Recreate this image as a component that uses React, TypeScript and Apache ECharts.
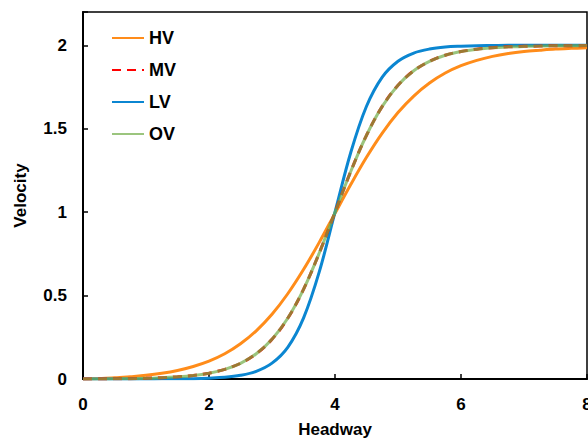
import React, { useEffect, useRef } from "react";
import * as echarts from "echarts";

const headway = [0, 0.25, 0.5, 0.75, 1, 1.25, 1.5, 1.75, 2, 2.25, 2.5, 2.75, 3, 3.25, 3.5, 3.75, 4, 4.25, 4.5, 4.75, 5, 5.25, 5.5, 5.75, 6, 6.25, 6.5, 6.75, 7, 7.25, 7.5, 7.75, 8];
const hvValues = [0, 0.003, 0.007, 0.014, 0.022, 0.034, 0.051, 0.075, 0.107, 0.151, 0.211, 0.289, 0.388, 0.511, 0.656, 0.819, 0.993, 1.166, 1.329, 1.474, 1.597, 1.696, 1.774, 1.834, 1.878, 1.91, 1.934, 1.951, 1.963, 1.971, 1.978, 1.982, 1.985];
const mvValues = [0, 0.0, 0.001, 0.002, 0.004, 0.008, 0.013, 0.021, 0.035, 0.058, 0.094, 0.151, 0.238, 0.364, 0.537, 0.755, 0.999, 1.244, 1.461, 1.634, 1.761, 1.848, 1.904, 1.941, 1.963, 1.977, 1.986, 1.991, 1.994, 1.996, 1.998, 1.998, 1.999];
const lvValues = [0, 0, 0, 0, 0, 0.001, 0.001, 0.002, 0.005, 0.01, 0.022, 0.046, 0.095, 0.19, 0.365, 0.642, 1.0, 1.358, 1.635, 1.81, 1.905, 1.954, 1.978, 1.99, 1.995, 1.998, 1.999, 2.0, 2.0, 2.0, 2.0, 2.0, 2.0];
const ovValues = [0, 0.0, 0.001, 0.002, 0.004, 0.008, 0.013, 0.021, 0.035, 0.058, 0.094, 0.151, 0.238, 0.364, 0.537, 0.755, 0.999, 1.244, 1.461, 1.634, 1.761, 1.848, 1.904, 1.941, 1.963, 1.977, 1.986, 1.991, 1.994, 1.996, 1.998, 1.998, 1.999];
const legendNames = ["HV", "MV", "LV", "OV"];

const pairs = (ys: number[]) => headway.map((x, i) => [x, ys[i]]);

export default function App() {
  const ref = useRef<HTMLDivElement>(null);
  useEffect(() => {
    if (!ref.current) return;
    const chart = echarts.init(ref.current, null, { renderer: "svg", width: 588, height: 441 });
    const font = "Liberation Sans, Arial, sans-serif";
    const lineBase = { type: "line", symbol: "none", showSymbol: false, smooth: 0.35 };
    chart.setOption({
      animation: false,
      backgroundColor: "#fff",
      grid: {
        left: 83,
        right: 1,
        top: 12,
        bottom: 62,
        outerBoundsMode: "none",
        containLabel: false,
        show: true,
        borderColor: "#000",
        borderWidth: 1.5,
      },
      legend: {
        data: legendNames,
        orient: "vertical",
        left: 106,
        top: 24,
        itemWidth: 32,
        itemHeight: 14,
        itemGap: 14,
        itemStyle: { opacity: 0, borderWidth: 0 },
        textStyle: { fontFamily: font, fontWeight: "bold", fontSize: 18, color: "#000", lineHeight: 18 },
      },
      xAxis: {
        type: "value",
        min: 0,
        max: 8,
        interval: 2,
        name: "Headway",
        nameLocation: "middle",
        nameGap: 42,
        nameTextStyle: { fontFamily: font, fontWeight: "bold", fontSize: 17, color: "#000" },
        axisLine: { lineStyle: { color: "#000", width: 2 } },
        axisTick: { inside: true, length: 5, lineStyle: { color: "#000", width: 1.5 } },
        axisLabel: { fontFamily: font, fontWeight: "bold", fontSize: 17, color: "#000", margin: 17 },
        splitLine: { show: false },
      },
      yAxis: {
        type: "value",
        min: 0,
        max: 2.2,
        interval: 0.5,
        name: "Velocity",
        nameLocation: "middle",
        nameGap: 54,
        nameTextStyle: { fontFamily: font, fontWeight: "bold", fontSize: 17, color: "#000" },
        axisLine: { lineStyle: { color: "#000", width: 2 } },
        axisTick: { inside: true, length: 5, lineStyle: { color: "#000", width: 1.5 } },
        axisLabel: {
          fontFamily: font,
          fontWeight: "bold",
          fontSize: 17,
          color: "#000",
          margin: 16,
          formatter: (v: number) => (v > 2.05 ? "" : String(v)),
        },
        splitLine: { show: false },
      },
      series: [
        { ...lineBase, name: "HV", data: pairs(hvValues), color: "#ff8c1a", lineStyle: { color: "#ff8c1a", width: 3 } },
        { ...lineBase, name: "LV", data: pairs(lvValues), color: "#0b86d1", lineStyle: { color: "#0b86d1", width: 3 } },
        { ...lineBase, name: "MV", data: pairs(mvValues), color: "#ff0000", lineStyle: { color: "#ff0000", width: 3, type: [9, 6] } },
        { ...lineBase, name: "OV", data: pairs(ovValues), color: "#70ad47", lineStyle: { color: "#70ad47", width: 3, opacity: 0.7 } },
      ],
    });
    return () => chart.dispose();
  }, []);
  return (
    <div
      ref={ref}
      style={{ position: "fixed", left: 0, top: 0, width: 588, height: 441, background: "#fff" }}
    />
  );
}
